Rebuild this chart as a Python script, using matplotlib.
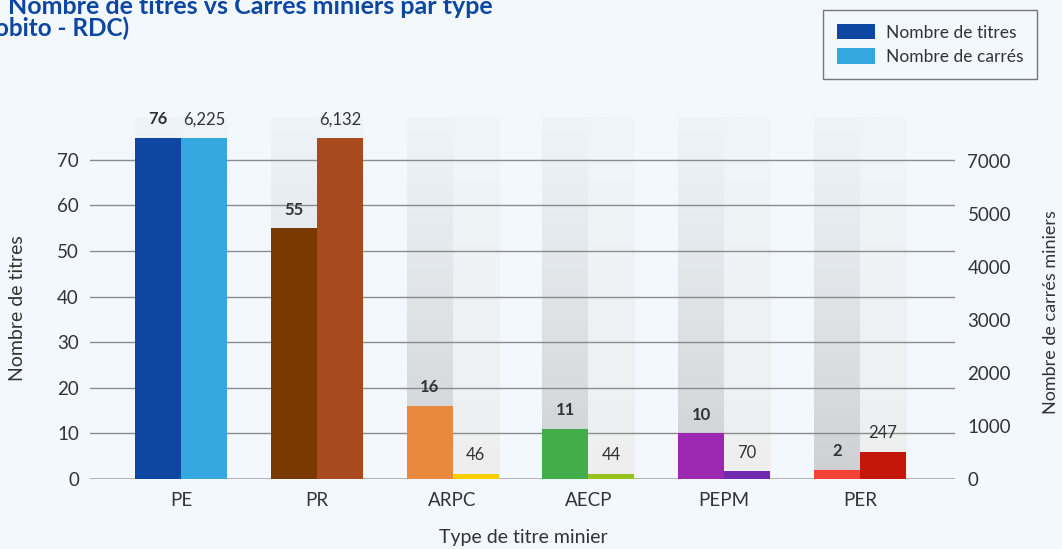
import numpy as np
import matplotlib
matplotlib.use("Agg")
import matplotlib.pyplot as plt
from matplotlib.colors import to_rgb
from matplotlib.patches import Patch

plt.rcParams["font.family"] = ["Lato", "DejaVu Sans"]

# ── data ────────────────────────────────────────────────────────────────────
types = ["PE", "PR", "ARPC", "AECP", "PEPM", "PER"]
titres = [76, 55, 16, 11, 10, 2]
carres = [6225, 6132, 46, 44, 70, 247]
titres_colors = ["#0d47a1", "#7a3900", "#e8893e", "#43ad4a", "#9c27b0", "#f44336"]
carres_colors = ["#35a8e0", "#a84a1e", "#ffcc00", "#97c21e", "#7129b0", "#c4170a"]
left_ticks = [0, 10, 20, 30, 40, 50, 60, 70]
right_tick_pos = [0, 1000, 2000, 3000, 4000, 5000, 6000]
right_tick_labels = ["0", "1000", "2000", "3000", "4000", "5000", "7000"]

BG = "#f2f8fe"
TXT = "#333333"
W, H = 1062, 549

fig = plt.figure(figsize=(W / 100, H / 100), dpi=100, facecolor=BG)
ax = fig.add_axes([90 / W, 1 - 479 / H, (955 - 90) / W, (479 - 138) / H])
ax.patch.set_visible(False)

x = np.arange(len(types))
bw = 0.339
ymax_left = 74.8
col_top = 79.2


def column(ax, x0, x1, c_bot, c_top):
    t = np.linspace(0, 1, 80)[:, None, None] ** 0.8
    arr = np.array(to_rgb(c_bot)) * (1 - t) + np.array(to_rgb(c_top)) * t
    ax.imshow(arr, extent=[x0, x1, 0, col_top], origin="lower",
              aspect="auto", zorder=0.2, clip_on=False, interpolation="bilinear")


# grey background columns behind every bar slot
for c in x:
    column(ax, c - bw, c, "#cdcfd1", "#eef4f8")
    column(ax, c, c + bw, "#eeeeee", "#eff5f9")

ax.bar(x - bw / 2, titres, bw, color=titres_colors, zorder=2, linewidth=0)
ax.set_xlim(-0.67, 5.70)
ax.set_ylim(0, ymax_left)
ax.set_yticks(left_ticks)
ax.yaxis.grid(True, color="#8c8c8c", linewidth=1)
ax.set_axisbelow(True)
ax.axhline(0, color="#b0b0b0", linewidth=2, zorder=1.5)
ax.set_xticks(x)
ax.set_xticklabels(types)
ax.tick_params(axis="both", length=0, labelsize=13.5, labelcolor=TXT)
ax.tick_params(axis="y", pad=8)
ax.tick_params(axis="x", pad=9)
for s in ax.spines.values():
    s.set_visible(False)

for c, v in zip(x, titres):
    ax.annotate(f"{v}", (c - bw / 2, min(v, ymax_left)), xytext=(0, 13.5),
                textcoords="offset points", ha="center", va="center",
                fontsize=12, fontweight="bold", color=TXT, annotation_clip=False)

# right series bars
ax2 = ax.twinx()
ax2.patch.set_visible(False)
ymax_right = 3120
ax2.bar(x + bw / 2, carres, bw, color=carres_colors, zorder=2, linewidth=0)
ax2.set_ylim(0, ymax_right)
ax2.set_yticks([])
for s in ax2.spines.values():
    s.set_visible(False)
for c, v in zip(x, carres):
    ax2.annotate(f"{v:,}", (c + bw / 2, min(v, ymax_right)), xytext=(0, 13.5),
                 textcoords="offset points", ha="center", va="center",
                 fontsize=12, color=TXT, annotation_clip=False)

# right axis labels
ax3 = ax.twinx()
ax3.patch.set_visible(False)
ax3.set_ylim(0, 6434)
ax3.set_yticks(right_tick_pos)
ax3.set_yticklabels(right_tick_labels)
ax3.tick_params(axis="y", length=0, pad=9, labelsize=13.5, labelcolor=TXT)
for s in ax3.spines.values():
    s.set_visible(False)

# axis titles
fig.text(18 / W, 1 - 308 / H, "Nombre de titres", rotation=90, ha="center",
         va="center", fontsize=14, color=TXT)
fig.text(1051 / W, 1 - 312 / H, "Nombre de carrés miniers", rotation=90,
         ha="center", va="center", fontsize=13, color=TXT)
fig.text(523 / W, 1 - 538 / H, "Type de titre minier", ha="center",
         va="center", fontsize=14, color=TXT)

# title (cut off at the top-left in the original)
fig.text(8 / W, 1 - 14 / H, "Nombre de titres vs Carrés miniers par type",
         ha="left", va="baseline", fontsize=18, fontweight="bold", color="#0d47a1")
fig.text(-5 / W, 1 - 36 / H, "obito - RDC)", ha="left", va="baseline",
         fontsize=17.5, fontweight="bold", color="#0d47a1")

handles = [Patch(facecolor=titres_colors[0]), Patch(facecolor=carres_colors[0])]
leg = fig.legend(handles, ["Nombre de titres", "Nombre de carrés"],
                 loc="upper right", bbox_to_anchor=(1037 / W, 1 - 10 / H),
                 fontsize=12.5, frameon=True, fancybox=False, edgecolor="#777777",
                 facecolor=BG, framealpha=1, handlelength=2.2, handleheight=1.0,
                 borderpad=0.8, labelspacing=0.45, handletextpad=0.6,
                 borderaxespad=0)
for t in leg.get_texts():
    t.set_color(TXT)
leg.get_frame().set_linewidth(1)

plt.savefig("out.png", dpi=100, facecolor=BG)
